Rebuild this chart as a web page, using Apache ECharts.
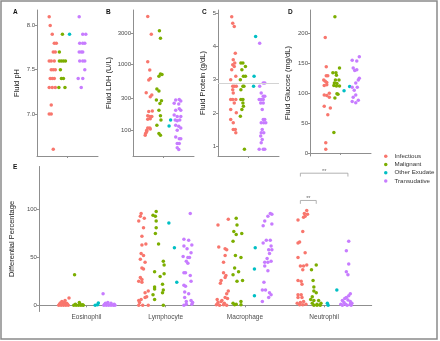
<!DOCTYPE html>
<html><head><meta charset="utf-8">
<script src="https://cdn.jsdelivr.net/npm/echarts@6/dist/echarts.min.js"></script>
<style>html,body{margin:0;padding:0;background:#fff}#c{width:440px;height:341px}</style>
</head><body><div id="c"></div>
<script>
const groups = ['Infectious','Malignant','Other Exudate','Transudative'];
const cats = ['Eosinophil','Lymphocyte','Macrophage','Neutrophil'];
const colors = ['#F8766D','#7CAE00','#00BFC4','#C77CFF'];
// tick labels
const phTicks = [7.0, 7.5, 8.0];
const ldhTicks = [100, 300, 1000, 3000];
const protTicks = [1, 2, 3, 4, 5];
const gluTicks = [0, 50, 100, 150, 200];
const diffTicks = [0, 50, 100];
const protCutoff = 2.9;
// points: [jitter, value]
const phInf = [[-0.06,8.1],[-0.04,8.0],[0,7.9],[0.04,7.8],[0.08,7.8],[0.02,7.7],[0.06,7.7],[-0.06,7.6],[-0.02,7.6],[0.04,7.6],[-0.02,7.5],[0.02,7.5],[0.06,7.5],[-0.04,7.4],[0,7.4],[0.04,7.4],[-0.06,7.3],[0,7.3],[0.06,7.3],[-0.02,7.1],[-0.06,7.0],[-0.02,7.0],[0.02,6.6]];
const phMal = [[0,7.9],[-0.06,7.7],[-0.06,7.6],[-0.02,7.6],[0.02,7.6],[0.06,7.6],[-0.04,7.5],[-0.02,7.4],[0.02,7.4],[-0.07,7.3],[0.05,7.3]];
const phOth = [[-0.06,7.9]];
const phTra = [[-0.07,8.1],[0,7.9],[0.06,7.9],[-0.06,7.8],[0,7.8],[0.04,7.8],[-0.07,7.7],[-0.03,7.7],[0,7.7],[-0.06,7.6],[0,7.6],[0.04,7.6],[0.04,7.5],[-0.09,7.4],[0,7.4],[-0.03,7.3]];

const ldhInf = [[-0.01,5400],[0.06,2900],[-0.01,1100],[0.03,820],[0.04,610],[0.01,577],[-0.04,370],[0.07,340],[0.04,320],[0.01,190],[0.08,195],[-0.01,165],[0.03,160],[0.07,160],[0.04,148],[-0.01,145],[-0.01,107],[0.03,107],[-0.03,99],[0.04,103],[-0.05,89],[-0.03,94],[-0.06,83]];
const ldhMal = [[0.02,3280],[0.04,2510],[0.04,713],[0.07,700],[0.01,660],[-0.03,420],[0.01,394],[-0.04,285],[0.06,278],[0.03,254],[0.01,200],[0.04,165],[0.05,141],[-0.03,118],[0.01,88],[0.04,83]];
const ldhOth = [[0.04,141],[0.01,115]];
const ldhTra = [[0.01,290],[-0.06,285],[0.04,275],[-0.09,255],[0,248],[-0.06,200],[0.01,210],[0.04,200],[-0.09,168],[-0.03,160],[0.04,160],[-0.07,141],[-0.03,138],[0.02,141],[-0.06,118],[0,114],[-0.03,99],[0.04,107],[-0.06,78],[0.01,73],[0.04,73],[-0.03,62],[0.01,62],[-0.03,53],[0,50]];

const protInf = [[-0.03,4.9],[-0.01,4.7],[0.02,4.6],[0.04,3.8],[0,3.6],[0.03,3.5],[-0.01,3.45],[0.02,3.4],[-0.03,3.3],[-0.05,3.0],[0.05,3.1],[-0.01,2.8],[0.02,2.8],[0.06,2.8],[-0.01,2.7],[0,2.6],[-0.05,2.4],[-0.01,2.4],[0.05,2.4],[0.02,2.3],[-0.05,2.1],[0.06,2.0],[-0.05,1.8],[0,1.7],[0,1.5],[0.04,1.5],[0.05,1.4]];
const protMal = [[-0.05,3.5],[-0.01,3.5],[-0.03,3.3],[0.04,3.4],[-0.06,3.0],[0,3.1],[0.04,3.1],[-0.01,2.8],[0.01,2.8],[-0.05,2.7],[-0.05,2.4],[-0.01,2.4],[-0.01,2.3],[0,2.2],[-0.03,2.1],[-0.06,1.9],[0.02,0.9]];
const protOth = [[0.04,4.3],[0.01,3.1],[0,2.8]];
const protTra = [[-0.08,4.1],[-0.01,2.9],[0.02,2.9],[-0.08,2.8],[-0.05,2.6],[-0.01,2.5],[0.02,2.5],[-0.09,2.4],[-0.05,2.4],[-0.01,2.4],[-0.06,2.3],[-0.01,2.3],[-0.03,2.1],[-0.01,1.8],[0.02,1.8],[-0.05,1.7],[0,1.7],[0.04,1.7],[-0.03,1.5],[-0.05,1.4],[0,1.4],[-0.06,1.3],[-0.03,1.2],[-0.05,1.1],[-0.09,0.9],[-0.01,0.9],[0.02,0.9]];

const gluInf = [[0,193],[0.02,144],[0.02,129],[0.05,129],[-0.03,122],[0,120],[0.03,118],[-0.02,113],[0.03,114],[0.08,100],[-0.02,97],[0.03,96],[0.08,93],[-0.02,78],[0.1,75],[0.05,64],[0.01,17],[0.01,6]];
const gluMal = [[-0.01,228],[0.08,142],[-0.05,134],[0.01,134],[0.02,130],[0,122],[0.07,122],[-0.02,117],[0.03,116],[-0.03,113],[0.02,112],[0.08,112],[0.03,99],[0.05,98],[-0.01,92],[-0.03,34]];
const gluOth = [[-0.03,104],[0.08,111]];
const gluTra = [[0.07,161],[-0.07,155],[0.02,154],[-0.05,142],[-0.02,138],[0.02,139],[0.07,125],[0.05,122],[0,117],[-0.07,110],[0.03,110],[-0.03,105],[0,97],[-0.05,93],[-0.07,86],[0.05,88],[0,84]];

const eosInf = [[-0.05,0],[-0.02,0],[0.01,0],[0.04,0],[0.07,0],[-0.04,1],[0,1],[0.05,2],[-0.03,2.5],[0.02,3],[0.03,5],[-0.01,4],[0.08,7.7],[0.06,1]];
const eosMal = [[-0.05,32],[0.01,3],[-0.06,0],[-0.03,0],[0,0],[0.03,0],[0.06,0],[-0.04,1],[0.02,1],[0.05,0.5]];
const eosOth = [[0.01,0],[0.05,2.5],[0.04,0.5]];
const eosTra = [[-0.09,12],[-0.08,0],[-0.05,0],[-0.02,0],[0.01,0],[0.04,0],[0.06,0],[-0.06,2],[-0.03,3],[0.01,2],[0.05,1],[-0.07,1]];

const lymInf = [[-0.01,96],[-0.02,93],[-0.04,88],[0.03,91],[0.02,81],[0,72],[0,63],[0.05,64],[-0.01,54],[0.02,52],[-0.02,48],[0.04,45],[0,39],[0.02,38],[-0.02,29],[0,27],[-0.04,25],[0,24],[0.08,15],[0.04,13],[0.04,8],[0.06,9],[-0.01,6],[-0.04,5],[-0.03,3],[-0.04,0],[0.01,0],[0.08,0]];
const lymMal = [[-0.02,98],[-0.06,94],[-0.03,93],[-0.02,88],[-0.02,81],[-0.03,75],[0.01,64],[0.07,46],[0.08,42],[-0.04,35],[0.08,33],[0.03,30],[0.06,22],[-0.04,19],[-0.04,17],[0.07,16],[0.06,13],[-0.06,11],[-0.04,6],[0.07,0]];
const lymOth = [[-0.06,86],[0.01,60],[0.04,24]];
const lymTra = [[0.01,96],[-0.07,69],[-0.01,68],[0.03,63],[-0.07,62],[-0.03,59],[0.02,55],[-0.08,51],[-0.02,50],[0,50],[-0.04,46],[-0.02,44],[-0.07,34],[-0.05,34],[0.01,31],[0.02,25],[-0.07,21],[-0.05,20],[-0.06,14],[-0.01,12],[-0.06,8],[0.02,5],[-0.04,4],[0.04,3],[-0.07,0],[-0.04,1],[0.03,1]];

const macInf = [[-0.04,84],[0.09,90],[-0.03,61],[0.05,59],[0.07,58],[0.05,52],[0.03,45],[0.03,34],[0.06,31],[0.05,29],[0,26],[-0.01,23],[0.09,15],[0.07,12],[0.05,8],[-0.05,6],[0.01,5],[0.08,7],[-0.04,3],[0,4],[0.04,2],[-0.06,0.5],[-0.02,0],[0.03,0.5],[0.07,0]];
const macMal = [[-0.01,91],[0,84],[-0.04,77],[-0.01,74],[0.06,75],[-0.05,67],[-0.02,52],[0.05,50],[-0.03,39],[0.02,35],[-0.05,32],[0,25],[0.07,26],[-0.05,2],[-0.03,0.5],[-0.01,1],[0.05,4],[0.05,0.5]];
const macOth = [[0.03,60],[0.02,38],[0.02,10]];
const macTra = [[0.02,96],[0.04,95],[-0.01,93],[-0.05,88],[-0.07,83],[0.04,85],[-0.03,68],[0.02,68],[-0.07,65],[0.03,62],[0,58],[0.04,58],[0.01,54],[-0.02,49],[-0.05,45],[-0.01,45],[0.03,46],[-0.05,41],[-0.01,36],[-0.06,24],[-0.08,16],[-0.04,16],[0.01,13],[0.03,11],[0,8],[-0.08,4]];

const neuInf = [[0.08,99],[0.05,96],[0.09,95],[0.04,92],[0.06,93],[-0.03,89],[0.03,77],[-0.01,66],[-0.03,65],[0.06,55],[-0.03,50],[0.08,42],[0.04,41],[0,41],[0.03,37],[-0.03,26],[0.01,25],[0.02,22],[-0.03,11],[0.01,11],[-0.03,8],[0.02,8],[-0.04,2],[0,3],[0.04,4],[0.07,1],[-0.01,0.5],[0.03,0.5]];
const neuMal = [[0,42],[-0.06,37],[-0.04,26],[-0.03,19],[-0.03,15],[0,13],[-0.05,9],[-0.07,6],[-0.03,5],[0.03,5],[-0.05,2],[0.01,1],[0.06,2],[-0.03,0],[0.01,0],[0.05,0]];
const neuOth = [[-0.06,2],[-0.05,0],[0.06,16]];
const neuTra = [[0.01,67],[-0.02,57],[0.01,43],[-0.02,35],[0,32],[0.03,12],[0.01,10],[-0.02,8],[-0.04,7],[-0.07,5],[0,5.5],[0.03,4],[-0.05,3],[-0.09,1],[-0.03,1],[0.03,1],[0.05,2],[-0.07,0],[-0.01,0],[0.04,0]];

// significance brackets (Neutrophil comparisons)
const sigFrom = [3.7, 3.7];
const sigTo = [4.3, 3.9];
const sigY = [138, 109.5];
const sigLabel = ['**', '**'];

const dodge = [-0.3, -0.1, 0.1, 0.3];
const FONT = 'Liberation Sans, Arial, sans-serif';
const AX = '#8f8f8f';

const topPanels = [
  {sets:[phInf,phMal,phOth,phTra], tf:v=>v},
  {sets:[ldhInf,ldhMal,ldhOth,ldhTra], tf:v=>Math.log10(v)},
  {sets:[protInf,protMal,protOth,protTra], tf:v=>v},
  {sets:[gluInf,gluMal,gluOth,gluTra], tf:v=>v}
];
const eCells = [
  [eosInf,eosMal,eosOth,eosTra],
  [lymInf,lymMal,lymOth,lymTra],
  [macInf,macMal,macOth,macTra],
  [neuInf,neuMal,neuOth,neuTra]
];

const grids = [
  {left:37, top:10, width:61, height:146},
  {left:133, top:10, width:61, height:146},
  {left:218, top:10, width:61, height:146},
  {left:310, top:10, width:61, height:146},
  {left:37, top:166.5, width:334.7, height:145}
];

function axBase(){
  return {
    axisLine:{show:true, lineStyle:{color:AX, width:1}},
    axisTick:{show:true, length:2, lineStyle:{color:AX, width:1}},
    splitLine:{show:false},
    axisLabel:{fontSize:6, color:'#4d4d4d', margin:2, fontFamily:FONT},
    nameTextStyle:{fontSize:7.5, color:'#1a1a1a', fontFamily:FONT},
    nameLocation:'middle'
  };
}

const xAxes = [], yAxes = [];
for (let i=0;i<4;i++){
  const a = axBase();
  Object.assign(a, {type:'value', gridIndex:i, min:0.4, max:1.6});
  a.axisTick = Object.assign({}, a.axisTick, {customValues:[1]});
  a.axisLabel = Object.assign({}, a.axisLabel, {show:false});
  xAxes.push(a);
}
{
  const a = axBase();
  Object.assign(a, {type:'value', gridIndex:4, min:0.4, max:4.6});
  a.axisTick = Object.assign({}, a.axisTick, {customValues:[1,2,3,4]});
  a.axisLabel = Object.assign({}, a.axisLabel, {customValues:[1,2,3,4], fontSize:6.5, margin:2.5, formatter:v=>cats[Math.round(v)-1]});
  xAxes.push(a);
}
const yDefs = [
  {min:6.525, max:8.175, ticks:phTicks, name:'Fluid pH', gap:16, fmt:v=>v.toFixed(1)},
  {min:1.6, max:3.833, ticks:ldhTicks.map(v=>Math.log10(v)), name:'Fluid LDH (U/L)', gap:20, fmt:v=>String(Math.round(Math.pow(10,v)))},
  {min:0.7, max:5.1, ticks:protTicks, name:'Fluid Protein (g/dL)', gap:11, fmt:v=>String(v)},
  {min:-5.1, max:239.1, ticks:gluTicks, name:'Fluid Glucose (mg/dL)', gap:18, fmt:v=>String(v)},
  {min:-6.5, max:145, ticks:diffTicks, name:'Differential Percentage', gap:18, fmt:v=>String(v)}
];
yDefs.forEach((d,i)=>{
  const a = axBase();
  Object.assign(a, {type:'value', gridIndex:i, min:d.min, max:d.max, name:d.name, nameGap:d.gap});
  a.axisTick = Object.assign({}, a.axisTick, {customValues:d.ticks});
  a.axisLabel = Object.assign({}, a.axisLabel, {customValues:d.ticks, formatter:d.fmt});
  yAxes.push(a);
});

const series = [];
function scatter(gi, k, pts){
  return {type:'scatter', name:groups[k], xAxisIndex:gi, yAxisIndex:gi,
    data:pts, symbolSize:3.5, itemStyle:{color:colors[k], opacity:1},
    silent:true, animation:false};
}
topPanels.forEach((p,gi)=>{
  p.sets.forEach((set,k)=>{
    const s = scatter(gi, k, set.map(q=>[1+dodge[k]+q[0], p.tf(q[1])]));
    if (gi===2 && k===0){
      s.markLine = {silent:true, symbol:'none', animation:false, label:{show:false},
        lineStyle:{color:'#d3d3d3', width:1, type:'solid'}, data:[{yAxis:protCutoff}]};
    }
    series.push(s);
  });
});
eCells.forEach((cell,ci)=>{
  cell.forEach((set,k)=>{
    series.push(scatter(4, k, set.map(q=>[ci+1+dodge[k]+q[0], q[1]])));
  });
});
sigFrom.forEach((f,i)=>{
  const t = sigTo[i], y = sigY[i];
  series.push({type:'line', xAxisIndex:4, yAxisIndex:4, silent:true, animation:false,
    showSymbol:false, symbol:'none', lineStyle:{color:'#a0a0a0', width:0.8},
    data:[[f,y-3.5],[f,y],[t,y],[t,y-3.5]]});
  series.push({type:'scatter', xAxisIndex:4, yAxisIndex:4, silent:true, animation:false,
    symbolSize:0, data:[[(f+t)/2, y]],
    label:{show:true, position:'top', distance:-1, formatter:sigLabel[i], fontSize:5.5, color:'#444', fontFamily:FONT}});
});

const chart = echarts.init(document.getElementById('c'), null, {renderer:'canvas'});
chart.setOption({
  backgroundColor:'#fff',
  animation:false,
  grid:grids,
  xAxis:xAxes,
  yAxis:yAxes,
  series:series,
  legend:{data:groups, orient:'vertical', left:379, top:147, itemWidth:3.5, itemHeight:3.5,
    itemGap:0, icon:'circle', selectedMode:false,
    textStyle:{fontSize:6.2, color:'#333', lineHeight:8.3, fontFamily:FONT, padding:[0,0,0,2]}},
  graphic:[
    {type:'rect', shape:{x:1, y:1, width:436, height:338}, style:{fill:'none', stroke:'#8a8a8a', lineWidth:1.5}, silent:true},
    {type:'text', left:13, top:8.5, style:{text:'A', font:'bold 6.5px '+FONT, fill:'#111'}},
    {type:'text', left:106, top:8.5, style:{text:'B', font:'bold 6.5px '+FONT, fill:'#111'}},
    {type:'text', left:202, top:8.5, style:{text:'C', font:'bold 6.5px '+FONT, fill:'#111'}},
    {type:'text', left:288, top:8.5, style:{text:'D', font:'bold 6.5px '+FONT, fill:'#111'}},
    {type:'text', left:13, top:163.5, style:{text:'E', font:'bold 6.5px '+FONT, fill:'#111'}}
  ]
});
</script>
</body></html>
